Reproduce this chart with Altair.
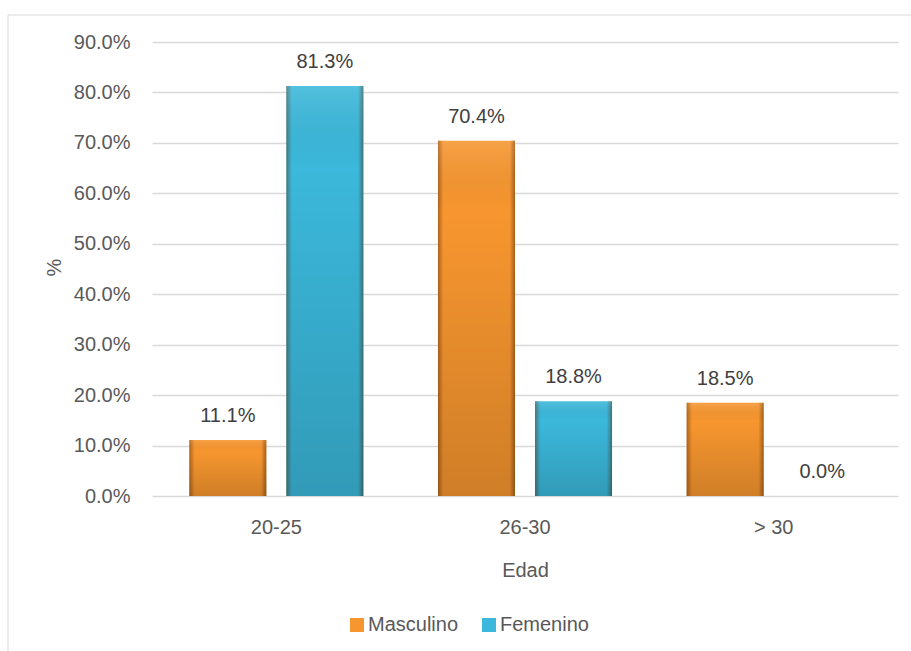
import altair as alt
import pandas as pd

categories = ["20-25", "26-30", "> 30"]
series = ["Masculino", "Femenino"]
masculino = [11.1, 70.4, 18.5]
femenino = [81.3, 18.8, 0.0]
y_ticks = [0.0, 0.1, 0.2, 0.3, 0.4, 0.5, 0.6, 0.7, 0.8, 0.9]

rows = []
for c, m, f in zip(categories, masculino, femenino):
    rows.append({"Edad": c, "Sexo": "Masculino", "v": m / 100})
    rows.append({"Edad": c, "Sexo": "Femenino", "v": f / 100})
df = pd.DataFrame(rows)

FONT = "Liberation Sans, Arial, sans-serif"

x_enc = alt.X(
    "Edad:N",
    sort=categories,
    scale=alt.Scale(paddingInner=0.30, paddingOuter=0.15),
    axis=alt.Axis(
        title="Edad",
        labelAngle=0,
        ticks=False,
        tickSize=0,
        labelPadding=37,
        labelBaseline="alphabetic",
        labelFontSize=20,
        labelColor="#595959",
        labelFont=FONT,
        titleFontSize=20,
        titleFontWeight="normal",
        titleColor="#595959",
        titleFont=FONT,
        titleY=80,
        titleBaseline="alphabetic",
        domain=False,
        grid=False,
    ),
)
xo_enc = alt.XOffset(
    "Sexo:N", sort=series, scale=alt.Scale(paddingInner=0.206, paddingOuter=0)
)
y_enc = alt.Y(
    "v:Q",
    scale=alt.Scale(domain=[0, 0.9], nice=False),
    axis=alt.Axis(
        title="%",
        values=y_ticks,
        format=".1%",
        ticks=False,
        tickSize=0,
        labelPadding=22,
        labelFontSize=20,
        labelColor="#595959",
        labelFont=FONT,
        domain=False,
        grid=True,
        gridColor="#D9D9D9",
        gridWidth=1.5,
        titleFontSize=20,
        titleFontWeight="normal",
        titleColor="#595959",
        titleFont=FONT,
        titleX=-92,
        titleY=225,
        titleAngle=270,
        titleAlign="center",
        titleBaseline="alphabetic",
    ),
)

base = alt.Chart(df)

bars = base.mark_bar(stroke=None).encode(
    x=x_enc,
    xOffset=xo_enc,
    y=y_enc,
    color=alt.Color(
        "Sexo:N",
        sort=series,
        scale=alt.Scale(domain=series, range=["#F7962F", "#3BB8DB"]),
        legend=alt.Legend(
            title=None,
            orient="none",
            legendX=195,
            legendY=573,
            direction="horizontal",
            symbolType="square",
            symbolSize=196,
            symbolStrokeWidth=0,
            labelFontSize=20,
            labelColor="#595959",
            labelFont=FONT,
            labelOffset=1,
            columnPadding=20,
        ),
    ),
)

edge = base.mark_bar(
    color=alt.LinearGradient(
        gradient="linear",
        x1=0, x2=1, y1=0, y2=0,
        stops=[
            alt.GradientStop(color="rgba(90,40,0,0.45)", offset=0),
            alt.GradientStop(color="rgba(90,40,0,0.0)", offset=0.07),
            alt.GradientStop(color="rgba(90,40,0,0.0)", offset=0.93),
            alt.GradientStop(color="rgba(60,30,0,0.45)", offset=1),
        ],
    )
).encode(x=x_enc, xOffset=xo_enc, y=y_enc)

shade = base.mark_bar(
    color=alt.LinearGradient(
        gradient="linear",
        x1=0, x2=0, y1=0, y2=1,
        stops=[
            alt.GradientStop(color="rgba(255,255,255,0.12)", offset=0),
            alt.GradientStop(color="rgba(0,0,0,0.0)", offset=0.2),
            alt.GradientStop(color="rgba(0,0,0,0.16)", offset=1),
        ],
    )
).encode(x=x_enc, xOffset=xo_enc, y=y_enc)

labels = base.mark_text(
    fontSize=20, color="#404040", font=FONT, baseline="alphabetic", dy=-18
).encode(
    x=x_enc,
    xOffset=xo_enc,
    y=y_enc,
    text=alt.Text("v:Q", format=".1%"),
)

frame = alt.Chart(pd.DataFrame({"a": [0]})).mark_rect(
    fill=None, stroke="#D9D9D9", strokeWidth=1
).encode(
    x=alt.value(-144), x2=alt.value(790), y=alt.value(-27), y2=alt.value(640)
)

chart = (
    alt.layer(frame, bars, edge, shade, labels)
    .properties(
        width=746,
        height=454,
        autosize=alt.AutoSizeParams(type="none"),
        padding={"left": 152, "top": 42, "right": 13, "bottom": 155},
        background="white",
    )
    .configure_view(stroke=None)
)

chart.save("out.html", embed_options={"renderer": "svg", "actions": False})
